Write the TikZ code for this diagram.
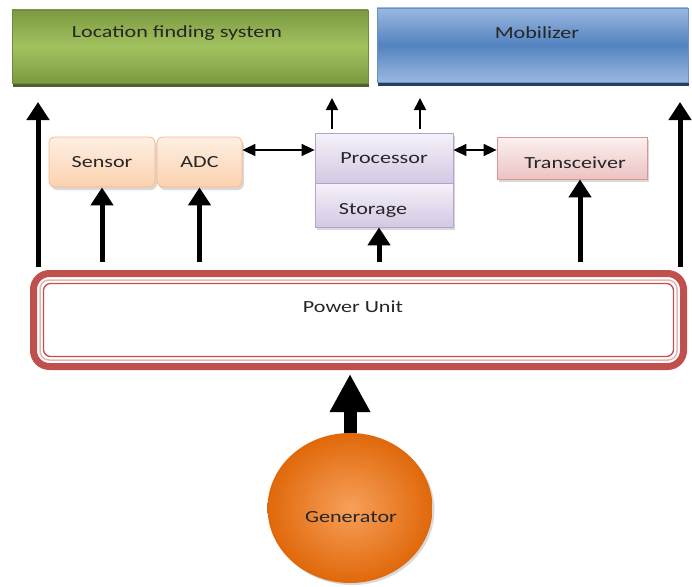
\documentclass[tikz,border=0pt]{standalone}
\usepackage{fontspec}
\usepackage{graphicx}
\setmainfont{Carlito}
\usetikzlibrary{arrows.meta,shapes.geometric,shadows,calc}
\definecolor{txt}{HTML}{262626}
\definecolor{gdark}{HTML}{7B9A41}
\definecolor{glight}{HTML}{A2C25F}
\definecolor{gshadow}{HTML}{4F6228}
\definecolor{gborder}{HTML}{71893F}
\definecolor{blight}{HTML}{9BB8DF}
\definecolor{bmid}{HTML}{5383C0}
\definecolor{bshadow}{HTML}{254061}
\definecolor{bborder}{HTML}{6A8FC7}
\definecolor{ptop}{HTML}{FEEFE3}
\definecolor{pbot}{HTML}{FBD2AE}
\definecolor{pborder}{HTML}{F8B98A}
\definecolor{ltop}{HTML}{F6F2FA}
\definecolor{lbot}{HTML}{D3C8E2}
\definecolor{lborder}{HTML}{B4A3CC}
\definecolor{rtop}{HTML}{FCF0F0}
\definecolor{rbot}{HTML}{EBC3C2}
\definecolor{rborder}{HTML}{D99694}
\definecolor{pured}{HTML}{C0504D}
\definecolor{pupink}{HTML}{E8B5B4}
\definecolor{oin}{HTML}{F7A05A}
\definecolor{oout}{HTML}{E0680A}
\newcommand\wt[1]{\scalebox{1.3}[1]{#1}}
\begin{document}
\begin{tikzpicture}[x=1pt,y=-1pt,
  font=\fontsize{17}{20}\selectfont, text=txt,
  topbox/.style={rectangle, inner sep=0pt, draw=#1, line width=0.8pt},
  smallbox/.style={rectangle, inner sep=0pt, line width=0.8pt,
     drop shadow={shadow xshift=2pt,shadow yshift=-3pt,opacity=.3}},
  thick arrow/.style={line width=5pt, -{Triangle[width=22pt,length=18pt]}},
  thin arrow/.style={line width=1.6pt, -{Triangle[width=12pt,length=12pt]}},
  both arrow/.style={line width=1.6pt, {Triangle[width=12pt,length=13pt]}-{Triangle[width=12pt,length=13pt]}}
]
\useasboundingbox (0,0) rectangle (692,586);

% top boxes
\node[topbox=gborder, minimum width=356pt, minimum height=73pt,
  top color=gdark, bottom color=gdark, middle color=glight,
  drop shadow={shadow xshift=1pt,shadow yshift=-4pt,fill=gshadow,opacity=1},
  label={[xshift=-13pt,yshift=13pt]center:\wt{Location finding system}}]
  (loc) at (190,46.5) {};
\node[topbox=bborder, minimum width=311pt, minimum height=74pt,
  top color=blight, bottom color=blight, middle color=bmid,
  drop shadow={shadow xshift=1pt,shadow yshift=-4pt,fill=bshadow,opacity=1},
  label={[xshift=4.5pt,yshift=12pt]center:\wt{Mobilizer}}]
  (mob) at (532.5,45) {};

% middle boxes
\node[smallbox, rounded corners=6pt, draw=pborder, top color=ptop, bottom color=pbot,
  minimum width=106pt, minimum height=50pt] (sen) at (102,162) {\wt{Sensor}};
\node[smallbox, rounded corners=6pt, draw=pborder, top color=ptop, bottom color=pbot,
  minimum width=85pt, minimum height=50pt] (adc) at (199.5,162) {\wt{ADC}};
\node[smallbox, draw=lborder, top color=ltop, bottom color=lbot,
  minimum width=138pt, minimum height=50pt] (proc) at (384,158) {\wt{Processor}};
\node[smallbox, draw=lborder, top color=ltop, bottom color=lbot, text height=22pt, text depth=4pt,
  minimum width=138pt, minimum height=44pt] (stor) at (384,205) {\hspace*{-22pt}\wt{Storage}};
\node[smallbox, draw=rborder, top color=rtop, bottom color=rbot, text height=24pt, text depth=4pt,
  minimum width=150pt, minimum height=42pt] (trx) at (572,158) {\hspace*{6pt}\wt{Transceiver}};

% power unit
\node[rectangle, draw=pured, line width=7pt, rounded corners=16pt, fill=white,
  minimum width=650pt, minimum height=93pt] (pu) at (358.5,320) {};
\draw[pupink, line width=1.5pt, rounded corners=9pt]
  ([shift={(10pt,-10pt)}]pu.north west) rectangle ([shift={(-10pt,10pt)}]pu.south east);
\draw[pured, line width=1.3pt, rounded corners=7pt]
  ([shift={(13.5pt,-13.5pt)}]pu.north west) rectangle ([shift={(-13.5pt,13.5pt)}]pu.south east);
\node (putext) at (353,307) {\wt{Power Unit}};

% generator
\node[ellipse, minimum width=165pt, minimum height=150pt, inner color=oin, outer color=oout,
  drop shadow={shadow xshift=2pt,shadow yshift=-2pt,opacity=.3}]
  (gen) at (350,508) {};
\node (gentext) at (351,517) {\wt{Generator}};

% free arrow ends
\coordinate (lup) at (38,102);
\coordinate (rup) at (680,102);
\coordinate (pup1) at (332,98);
\coordinate (pup2) at (420,98);

% connectors
\draw[thick arrow, shorten <=3pt] (pu.north -| lup) -- (lup);
\draw[thick arrow, shorten <=3pt] (pu.north -| rup) -- (rup);
\draw[thick arrow, shorten <=8pt] (pu.north -| sen.south) -- (sen.south);
\draw[thick arrow, shorten <=8pt] (pu.north -| adc.south) -- (adc.south);
\draw[thick arrow, shorten <=8pt] (pu.north -| 379,0) -- (stor.south -| 379,0);
\draw[thick arrow, shorten <=8pt] (pu.north -| 580,0) -- (trx.south -| 580,0);

\draw[thin arrow, shorten <=4pt] (proc.north -| pup1) -- (pup1);
\draw[thin arrow, shorten <=4pt] (proc.north -| pup2) -- (pup2);

\draw[both arrow] ([yshift=12pt]adc.east) -- ([yshift=12pt]adc.east -| proc.west);
\draw[both arrow] ([yshift=8pt]proc.east) -- ([yshift=8pt]trx.west);

\draw[line width=13pt, -{Triangle[width=38pt,length=38pt]}, shorten >=4pt]
  (gen.north) -- (pu.south -| gen.north);
\end{tikzpicture}
\end{document}
